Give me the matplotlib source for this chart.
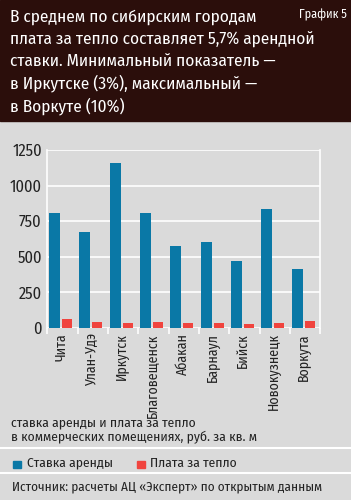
import numpy as np
import matplotlib.pyplot as plt

plt.rcParams['font.family'] = ['Fira Sans Condensed', 'DejaVu Sans']

cities = ['Чита', 'Улан-Удэ', 'Иркутск', 'Благовещенск', 'Абакан',
          'Барнаул', 'Бийск', 'Новокузнецк', 'Воркута']
rent = [805, 672, 1162, 810, 575, 600, 470, 832, 410]
heat = [60, 42, 35, 37, 35, 35, 28, 35, 44]

title_lines = ['В среднем по сибирским городам',
               'плата за тепло составляет 5,7% арендной',
               'ставки. Минимальный показатель —',
               'в Иркутске (3%), максимальный —',
               'в Воркуте (10%)']

blue = '#0a78a6'
red = '#f0443e'
bg = '#dadada'
dark = '#2b0e0b'
txt = '#222222'

fig = plt.figure(figsize=(3.51, 5.0), dpi=100, facecolor=bg)

# header block
fig.patches.append(plt.Rectangle((0, 1 - 121 / 500), 1, 121 / 500,
                                 transform=fig.transFigure, color=dark, zorder=0))
for i, line in enumerate(title_lines):
    fig.text(10 / 351, 1 - (22 + 22.3 * i) / 500, line, color='white',
             fontsize=12.4, va='baseline', ha='left')
fig.text(347 / 351, 1 - 18 / 500, 'График 5', color='white', fontsize=8.8,
         va='baseline', ha='right')

ax = fig.add_axes([47.3 / 351, 1 - 327.7 / 500, 273 / 351, 177.7 / 500])
ax.set_facecolor(bg)
x = np.arange(len(cities))
ax.bar(x + 0.24, rent, width=0.36, color=blue, zorder=3)
ax.bar(x + 0.645, heat, width=0.33, color=red, zorder=3)

ax.set_xlim(0, len(cities))
ax.set_ylim(0, 1250)
ax.set_yticks([0, 250, 500, 750, 1000, 1250])
ax.grid(axis='y', color='white', linewidth=1.2, zorder=1)
ax.set_xticks(x + 0.45)
ax.set_xticklabels(cities, rotation=90, fontsize=10)
ax.set_xticks(np.arange(len(cities) + 1), minor=True)
ax.tick_params(axis='x', which='major', length=0, pad=4, colors=txt)
ax.tick_params(axis='x', which='minor', length=4, color='white', width=1.2)
ax.tick_params(axis='y', length=0, labelsize=11.8, pad=4, colors=txt)
for s in ['top', 'bottom']:
    ax.spines[s].set_visible(False)
for s in ['left', 'right']:
    ax.spines[s].set_color('white')
    ax.spines[s].set_linewidth(1.2)

fig.text(11 / 351, 1 - 417 / 500,
         'ставка аренды и плата за тепло\nв коммерческих помещениях, руб. за кв. м',
         fontsize=9.8, color=txt, va='top', ha='left', linespacing=1.05)

fig.add_artist(plt.Line2D([0, 1], [1 - 448 / 500] * 2, color='white', lw=1.5,
                          transform=fig.transFigure))
fig.add_artist(plt.Line2D([0, 1], [1 - 473 / 500] * 2, color='white', lw=1.5,
                          transform=fig.transFigure))

# legend
fig.patches.append(plt.Rectangle((13 / 351, 1 - 468 / 500), 8 / 351, 7 / 500,
                                 transform=fig.transFigure, color=blue))
fig.text(27 / 351, 1 - 463 / 500, 'Ставка аренды', fontsize=9.8,
         color=txt, va='center', ha='left')
fig.patches.append(plt.Rectangle((137 / 351, 1 - 468 / 500), 8 / 351, 7 / 500,
                                 transform=fig.transFigure, color=red))
fig.text(150 / 351, 1 - 463 / 500, 'Плата за тепло', fontsize=9.8,
         color=txt, va='center', ha='left')

fig.text(12 / 351, 1 - 487 / 500,
         'Источник: расчеты АЦ «Эксперт» по открытым данным',
         fontsize=9.5, color=txt, va='center', ha='left')

fig.savefig('out.png', dpi=100, facecolor=bg)
